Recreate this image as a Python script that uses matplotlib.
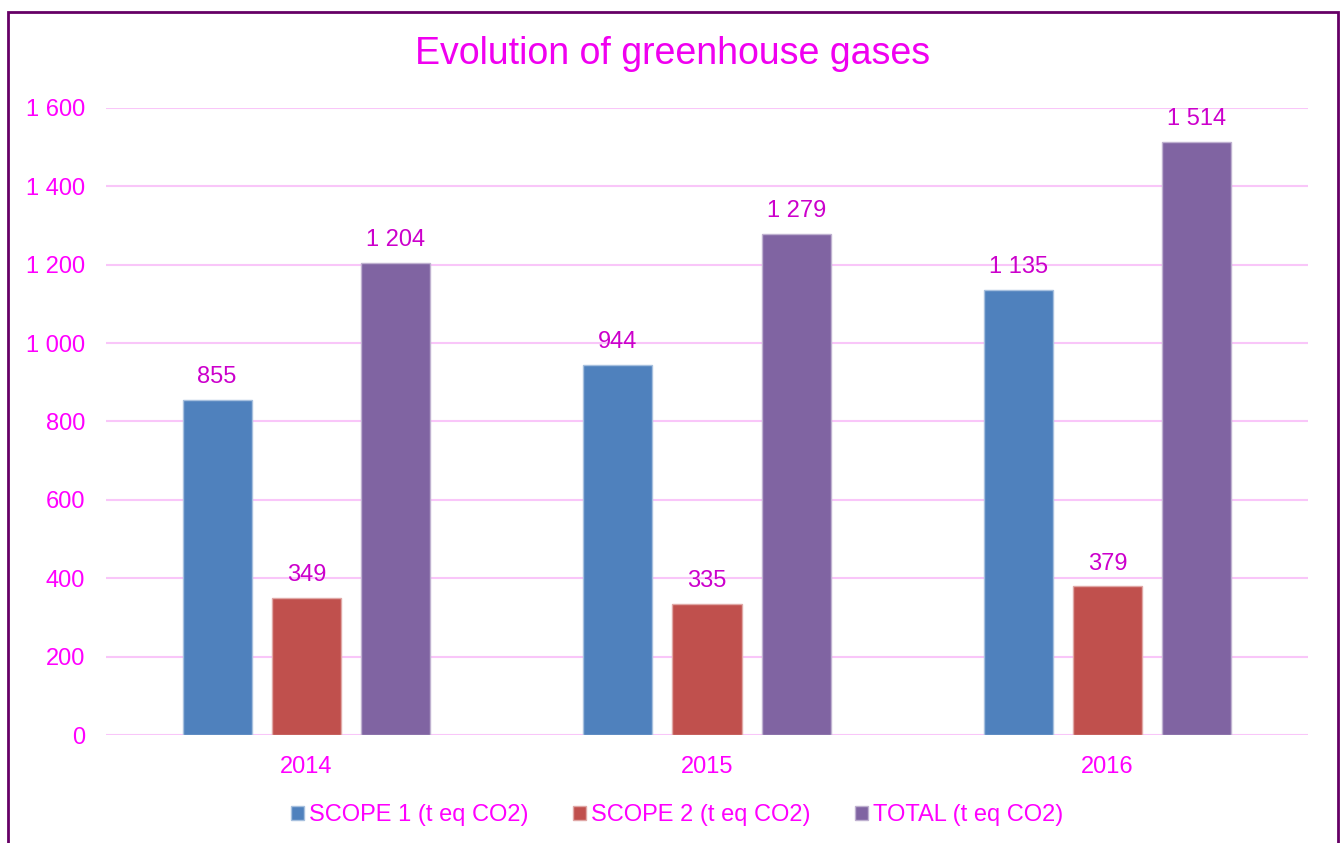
import numpy as np
import matplotlib
matplotlib.use("Agg")
import matplotlib.pyplot as plt
from matplotlib.patches import Rectangle

plt.rcParams['font.family'] = ['Liberation Sans', 'DejaVu Sans']

years = ['2014', '2015', '2016']
scope1 = [855, 944, 1135]
scope2 = [349, 335, 379]
total = [1204, 1279, 1514]
series_names = ['SCOPE 1 (t eq CO2)', 'SCOPE 2 (t eq CO2)', 'TOTAL (t eq CO2)']
colours = ['#4F81BD', '#C0504D', '#8064A2']
edges = ['#A7C0DE', '#E0A8A6', '#BFB1D0']

magenta = '#FF00FF'
label_col = '#CC00CC'

fig = plt.figure(figsize=(13.44, 8.43), dpi=100)
ax = fig.add_axes([106/1344, 1-735/843, (1308-106)/1344, (735-108)/843])

x = np.arange(len(years))
w = 0.1725
step = 0.2225
for i, (vals, name) in enumerate(zip([scope1, scope2, total], series_names)):
    bars = ax.bar(x + (i-1)*step, vals, width=w, color=colours[i],
                  edgecolor=edges[i], linewidth=1, label=name, zorder=3)
    for b, v in zip(bars, vals):
        txt = f'{v:,}'.replace(',', ' ')
        ax.annotate(txt, (b.get_x() + b.get_width()/2, v), xytext=(0, 8.5),
                    textcoords='offset points', ha='center', va='bottom',
                    fontsize=17, color=label_col)

ax.set_xlim(-0.5, 2.5)
ax.set_ylim(0, 1600)
ax.set_yticks(np.arange(0, 1601, 200))
ax.set_yticklabels([f'{t:,}'.replace(',', ' ') for t in range(0, 1601, 200)])
ax.set_xticks(x)
ax.set_xticklabels(years)
ax.tick_params(axis='both', length=0, labelsize=17, labelcolor=magenta)
ax.tick_params(axis='y', pad=15)
ax.tick_params(axis='x', pad=15)
ax.grid(axis='y', color='#F9C6F9', linewidth=1.5, zorder=0)
for s in ax.spines.values():
    s.set_visible(False)

fig.text(673/1344, 1-54/843, 'Evolution of greenhouse gases', ha='center',
         va='center', fontsize=27, color='#F000F0')

leg = fig.legend(loc='center', bbox_to_anchor=(677/1344, 1-815/843), ncol=3,
                 frameon=False, fontsize=17, handlelength=0.55, handleheight=0.55,
                 handletextpad=0.2, columnspacing=1.9)
for t in leg.get_texts():
    t.set_color(magenta)

fig.patches.append(Rectangle((8/1344, -0.05), (1338-8)/1344, 1.05-12/843,
                             transform=fig.transFigure, fill=False,
                             edgecolor='#660066', linewidth=2))

fig.savefig('out.png', dpi=100)
